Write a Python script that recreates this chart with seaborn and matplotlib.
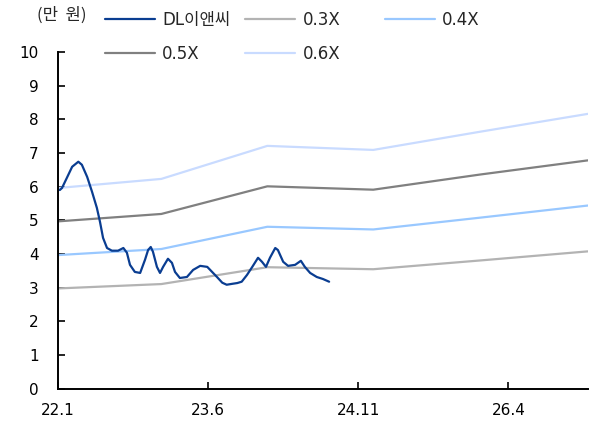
import matplotlib
matplotlib.use("Agg")
import matplotlib.pyplot as plt
import seaborn as sns
import pandas as pd
from matplotlib.lines import Line2D

# ---- data ----
x_tick_pos = [0, 17, 34, 51]
x_tick_labels = ["22.1", "23.6", "24.11", "26.4"]

band_months = [0, 11.7, 23.7, 35.7, 47.8, 60]
band_03 = [2.98, 3.11, 3.61, 3.55, 3.81, 4.08]
band_04 = [3.97, 4.15, 4.81, 4.73, 5.08, 5.44]
band_05 = [4.97, 5.19, 6.01, 5.91, 6.36, 6.78]
band_06 = [5.96, 6.23, 7.21, 7.09, 7.63, 8.16]

price_months = [0.2, 0.45, 1.0, 1.6, 2.3, 2.7, 3.3, 3.85, 4.4, 4.75, 5.1, 5.55,
                6.1, 6.8, 7.4, 7.8, 8.15, 8.7, 9.3, 9.85, 10.2, 10.5, 10.75,
                11.2, 11.55, 11.9, 12.45, 12.9, 13.25, 13.8, 14.6, 15.3, 16.1,
                16.9, 17.45, 18.0, 18.6, 19.1, 19.8, 20.3, 20.8, 21.4, 22.0,
                22.65, 23.1, 23.55, 24.0, 24.6, 24.9, 25.5, 26.05, 26.85, 27.5,
                27.95, 28.55, 29.3, 30.0, 30.7]
price = [5.9, 5.96, 6.26, 6.59, 6.74, 6.65, 6.29, 5.85, 5.37, 4.96, 4.48, 4.18,
         4.1, 4.1, 4.18, 4.04, 3.68, 3.47, 3.44, 3.83, 4.12, 4.21, 4.07,
         3.62, 3.44, 3.62, 3.86, 3.74, 3.47, 3.29, 3.32, 3.53, 3.65,
         3.62, 3.47, 3.32, 3.15, 3.09, 3.12, 3.14, 3.18, 3.38, 3.62,
         3.89, 3.77, 3.62, 3.89, 4.18, 4.12, 3.77, 3.65, 3.68, 3.8,
         3.62, 3.44, 3.32, 3.26, 3.18]

series_names = ["DL이앤씨", "0.3X", "0.4X", "0.5X", "0.6X"]
colors = ["#0A3D91", "#B3B3B3", "#99C8FF", "#808080", "#C9DBFF"]

# ---- figure ----
sns.set_theme(style="white")
plt.rcParams['font.family'] = ['DejaVu Sans', 'Noto Sans CJK KR']
fig = plt.figure(figsize=(5.92, 4.25), dpi=100)
ax = fig.add_axes([0.098, 0.085, 0.895, 0.793])

bands = [band_03, band_04, band_05, band_06]
for vals, col in zip(bands, colors[1:]):
    sns.lineplot(x=band_months, y=vals, ax=ax, color=col, linewidth=1.6,
                 legend=False)
sns.lineplot(x=price_months, y=price, ax=ax, color=colors[0], linewidth=1.6,
             legend=False)
ax.lines[-1].set_solid_joinstyle('round')

ax.set_xlim(0, 60)
ax.set_ylim(0, 10)
ax.set_xticks(x_tick_pos)
ax.set_xticklabels(x_tick_labels)
ax.set_yticks(range(0, 11))
ax.tick_params(axis='both', direction='in', length=5, width=1.2, colors='black',
               labelsize=11, labelcolor='black', left=True, bottom=True)
ax.tick_params(axis='x', pad=10)
ax.tick_params(axis='y', pad=14)
for s in ['top', 'right']:
    ax.spines[s].set_visible(False)
for s in ['left', 'bottom']:
    ax.spines[s].set_color('black')
    ax.spines[s].set_linewidth(1.4)

fig.text(0.104, 0.963, "(만  원)", ha='center', va='center', fontsize=12,
         family=['Noto Sans CJK KR', 'DejaVu Sans'])

handles = [Line2D([], [], color=c, linewidth=1.6) for c in colors]
cols = [(0.177, [0, 3]), (0.414, [1, 4]), (0.650, [2])]
for xpos, idx in cols:
    leg = fig.legend([handles[i] for i in idx], [series_names[i] for i in idx],
                     loc='upper left', bbox_to_anchor=(xpos, 0.975),
                     frameon=False, fontsize=12, handlelength=3.0,
                     handletextpad=0.45, labelspacing=1.0, borderpad=0,
                     borderaxespad=0)

fig.savefig("out.png", dpi=100)
